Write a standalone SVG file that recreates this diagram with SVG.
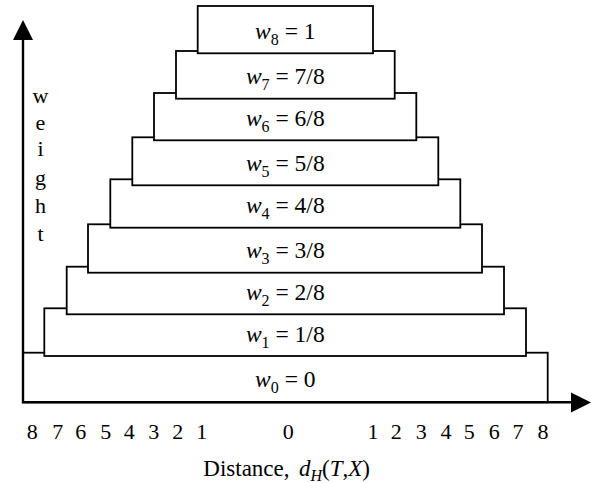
<svg xmlns="http://www.w3.org/2000/svg" width="597" height="483" viewBox="0 0 597 483">
<style>
.box{fill:#fff;stroke:#000;stroke-width:1.8}
.axis{stroke:#000;stroke-width:2.4;fill:none}
.head{fill:#000}
text{font-family:"Liberation Serif","Times New Roman",serif;font-size:23.5px;fill:#000}
.lbl{text-anchor:middle}
.it{font-style:italic}
.sub{font-size:16px}
.tick{font-size:22px;text-anchor:middle}
.xl{font-size:23px}
</style>
<rect width="597" height="483" fill="#fff"/>
<g id="w0"><rect class="box" x="23" y="352.7" width="524.7" height="49.6"/><text class="lbl" x="285.3" y="386.8"><tspan class="it">w</tspan><tspan class="sub" dy="6">0</tspan><tspan dy="-6"> = 0</tspan></text></g>
<g id="w1"><rect class="box" x="44.3" y="308.3" width="481.7" height="47.7"/><text class="lbl" x="285.3" y="341.5"><tspan class="it">w</tspan><tspan class="sub" dy="6">1</tspan><tspan dy="-6"> = 1/8</tspan></text></g>
<g id="w2"><rect class="box" x="66.7" y="266.7" width="437.3" height="47.6"/><text class="lbl" x="285.3" y="299.8"><tspan class="it">w</tspan><tspan class="sub" dy="6">2</tspan><tspan dy="-6"> = 2/8</tspan></text></g>
<g id="w3"><rect class="box" x="88" y="224.3" width="394" height="48.4"/><text class="lbl" x="285.3" y="257.8"><tspan class="it">w</tspan><tspan class="sub" dy="6">3</tspan><tspan dy="-6"> = 3/8</tspan></text></g>
<g id="w4"><rect class="box" x="110.3" y="179.3" width="350" height="48.4"/><text class="lbl" x="285.3" y="212.8"><tspan class="it">w</tspan><tspan class="sub" dy="6">4</tspan><tspan dy="-6"> = 4/8</tspan></text></g>
<g id="w5"><rect class="box" x="132.3" y="137.3" width="306" height="48"/><text class="lbl" x="285.3" y="170.6"><tspan class="it">w</tspan><tspan class="sub" dy="6">5</tspan><tspan dy="-6"> = 5/8</tspan></text></g>
<g id="w6"><rect class="box" x="154" y="93" width="262.3" height="47.3"/><text class="lbl" x="285.3" y="126"><tspan class="it">w</tspan><tspan class="sub" dy="6">6</tspan><tspan dy="-6"> = 6/8</tspan></text></g>
<g id="w7"><rect class="box" x="176" y="51" width="218.7" height="47.7"/><text class="lbl" x="285.3" y="84.2"><tspan class="it">w</tspan><tspan class="sub" dy="6">7</tspan><tspan dy="-6"> = 7/8</tspan></text></g>
<g id="w8"><rect class="box" x="197.7" y="6" width="175.3" height="47.3"/><text class="lbl" x="285.3" y="39"><tspan class="it">w</tspan><tspan class="sub" dy="6">8</tspan><tspan dy="-6"> = 1</tspan></text></g>
<g id="connectors">
<line class="axis" x1="23" y1="403" x2="23" y2="38"/>
<polygon class="head" points="23,20 13,40 33,40"/>
<line class="axis" x1="22" y1="402.3" x2="573" y2="402.3"/>
<polygon class="head" points="591,402.5 571,392.5 571,412.5"/>
</g>
<g id="y-label">
<text class="tick" x="40.5" y="103">w</text>
<text class="tick" x="40.5" y="130">e</text>
<text class="tick" x="40.5" y="156">i</text>
<text class="tick" x="40.5" y="185">g</text>
<text class="tick" x="40.5" y="213">h</text>
<text class="tick" x="40.5" y="241">t</text>
</g>
<g id="x-ticks">
<text class="tick" x="32.3" y="439">8</text>
<text class="tick" x="57.7" y="439">7</text>
<text class="tick" x="80.7" y="439">6</text>
<text class="tick" x="105.7" y="439">5</text>
<text class="tick" x="129.3" y="439">4</text>
<text class="tick" x="153.7" y="439">3</text>
<text class="tick" x="177.7" y="439">2</text>
<text class="tick" x="201.7" y="439">1</text>
<text class="tick" x="288.3" y="439">0</text>
<text class="tick" x="373" y="439">1</text>
<text class="tick" x="396.3" y="439">2</text>
<text class="tick" x="421.3" y="439">3</text>
<text class="tick" x="446" y="439">4</text>
<text class="tick" x="469.3" y="439">5</text>
<text class="tick" x="494.3" y="439">6</text>
<text class="tick" x="518" y="439">7</text>
<text class="tick" x="543" y="439">8</text>
</g>
<g id="x-label">
<text class="xl" x="203.3" y="476">Distance,<tspan class="it" x="299">d</tspan><tspan class="it sub" dy="5">H</tspan><tspan dy="-5">(</tspan><tspan class="it">T</tspan><tspan>,</tspan><tspan class="it">X</tspan><tspan>)</tspan></text>
</g>
</svg>
